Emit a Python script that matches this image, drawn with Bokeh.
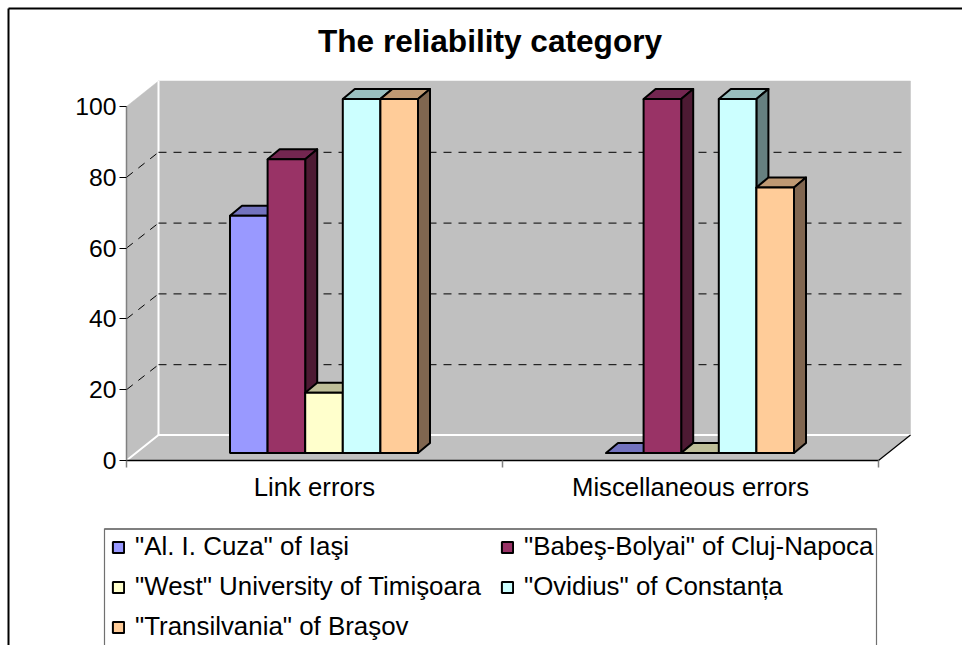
from bokeh.plotting import figure
from bokeh.models import ColumnDataSource, Legend, LegendItem, LinearAxis, FixedTicker
from bokeh.core.properties import value
from bokeh.embed import file_html
from bokeh.resources import INLINE

title_text = "The reliability category"
categories = ["Link errors", "Miscellaneous errors"]
series_names = ['"Al. I. Cuza" of Iaşi', '"Babeş-Bolyai" of Cluj-Napoca',
                '"West" University of Timişoara', '"Ovidius" of Constanța',
                '"Transilvania" of Braşov']
cuza = [67, 0]
babes = [83, 100]
west = [17, 0]
ovidius = [100, 100]
transilvania = [100, 75]
series_values = [cuza, babes, west, ovidius, transilvania]
front_colors = ["#9999FF", "#993366", "#FFFFCC", "#CCFFFF", "#FFCC99"]
top_colors = ["#7373BF", "#732650", "#BFBF99", "#99BFBF", "#BF9973"]
side_colors = ["#4D4D80", "#4D1A33", "#808066", "#668080", "#806650"]
y_ticks = [0, 20, 40, 60, 80, 100]

FONT = "Liberation Sans"
PX_X, PX_Y = 376.0, 3.54            # pixels per category, pixels per percent

def xu(px):  return px / PX_X
def yu(px):  return px / PX_Y
def page_x(px): return (px - 126) / PX_X
def page_y(py): return (460 - py) / PX_Y

p = figure(width=962, height=645, output_backend="svg", toolbar_location=None,
           x_range=(page_x(0), page_x(962)), y_range=(page_y(645), page_y(0)),
           min_border=0, min_border_left=0, min_border_right=0, min_border_top=0, min_border_bottom=0,
           x_axis_type=None, y_axis_type=None, outline_line_color=None,
           background_fill_color="white", border_fill_color="white")
p.grid.visible = False

# --- 3D room -----------------------------------------------------------
WALL_DX, WALL_DY = xu(32), yu(25.5)
WALL = "#C0C0C0"
n = len(categories)
p.patches([[0, WALL_DX, WALL_DX, 0], [WALL_DX, n + WALL_DX, n + WALL_DX, WALL_DX],
           [0, WALL_DX, n + WALL_DX, n]],
          [[100, 100 + WALL_DY, WALL_DY, 0], [WALL_DY, WALL_DY, 100 + WALL_DY, 100 + WALL_DY],
           [0, WALL_DY, WALL_DY, 0]],
          fill_color=WALL, line_color=WALL, line_width=0.5)
p.multi_line([[0, WALL_DX, n + WALL_DX], [WALL_DX, WALL_DX]],
             [[0, WALL_DY, WALL_DY], [WALL_DY, 100 + WALL_DY]],
             line_color="white", line_width=2)
p.multi_line([[n, n + WALL_DX]], [[0, WALL_DY]], line_color="black", line_width=1.2)

# dashed gridlines
grid_vals = [v for v in y_ticks if 0 < v < 100]
GRID_DY = WALL_DY - yu(0.5)
p.multi_line([[0, WALL_DX] for v in grid_vals], [[v, v + GRID_DY] for v in grid_vals],
             line_color="black", line_width=1, line_dash="8 7")
p.multi_line([[WALL_DX, n + WALL_DX - xu(5)] for v in grid_vals],
             [[v + GRID_DY, v + GRID_DY] for v in grid_vals],
             line_color="black", line_width=1, line_dash="8 7")

# --- bars --------------------------------------------------------------
BASE_DX, BASE_DY = xu(9.5), yu(7.5)
DEPTH_DX, DEPTH_DY = xu(12), yu(10)
BAR_W = xu(37.6)
legend_items = []
for s, (name, vals) in enumerate(zip(series_names, series_values)):
    left = [c + 0.5 + BASE_DX + (s - 2.5) * BAR_W for c in range(n)]
    right = [l + BAR_W for l in left]
    bottom = [BASE_DY] * n
    top = [BASE_DY + v for v in vals]
    p.patches([[l, r, r + DEPTH_DX, l + DEPTH_DX] for l, r in zip(left, right)],
              [[t, t, t + DEPTH_DY, t + DEPTH_DY] for t in top],
              fill_color=top_colors[s], line_color="black", line_width=2, line_join="round")
    p.patches([[r, r + DEPTH_DX, r + DEPTH_DX, r] for r in right],
              [[b, b + DEPTH_DY, t + DEPTH_DY, t] for b, t in zip(bottom, top)],
              fill_color=side_colors[s], line_color="black", line_width=2, line_join="round")
    src = ColumnDataSource(dict(left=left, right=right, top=top, bottom=bottom))
    r = p.quad(left="left", right="right", top="top", bottom="bottom", source=src,
               fill_color=front_colors[s], line_color="black", line_width=2)
    legend_items.append(LegendItem(label=name, renderers=[r]))

# --- axes --------------------------------------------------------------
xaxis = LinearAxis(ticker=FixedTicker(ticks=[c + 0.5 for c in range(n)], minor_ticks=list(range(n + 1))),
                   fixed_location=0, bounds=(0, n),
                   major_label_overrides={c + 0.5: categories[c] for c in range(n)},
                   major_label_text_font=FONT, major_label_text_font_size="25.7px", major_label_text_color="black",
                   major_label_standoff=5, axis_line_color="black", axis_line_width=1.5,
                   major_tick_in=0, major_tick_out=0,
                   minor_tick_in=0, minor_tick_out=7, minor_tick_line_color="#808080", minor_tick_line_width=1.5)
p.add_layout(xaxis, "below")
yaxis = LinearAxis(ticker=FixedTicker(ticks=y_ticks), fixed_location=0, bounds=(0, 100),
                   major_label_text_font=FONT, major_label_text_font_size="24.7px", major_label_text_color="black",
                   major_label_standoff=3, axis_line_color="#808080", axis_line_width=1.5,
                   major_tick_in=0, major_tick_out=7, major_tick_line_color="black", major_tick_line_width=1.2,
                   minor_tick_in=0, minor_tick_out=0)
p.add_layout(yaxis, "left")

# --- title -------------------------------------------------------------
p.text([page_x(489.5)], [page_y(40)], text=[title_text], text_font=value(FONT), text_font_style="bold",
       text_font_size="31.6px", text_align="center", text_baseline="middle", text_color="black")

# --- chart frame, legend box ------------------------------------------
p.multi_line([[page_x(8), page_x(8)], [page_x(8), page_x(962)]],
             [[page_y(645), page_y(8)], [page_y(8), page_y(8)]], line_color="black", line_width=2)
p.multi_line([[page_x(104), page_x(876)]], [[page_y(528.5), page_y(528.5)]], line_color="black", line_width=1.2)
p.multi_line([[page_x(104), page_x(104)], [page_x(876), page_x(876)]],
             [[page_y(645), page_y(528)], [page_y(645), page_y(528)]], line_color="#707070", line_width=1.2)

legend = Legend(items=legend_items, ncols=2, orientation="horizontal", location=(111, 4),
                label_text_font=FONT, label_text_font_size="25.9px", label_text_color="black",
                glyph_width=14, glyph_height=14, label_standoff=10, label_width=354,
                spacing=11, padding=0, margin=0,
                background_fill_alpha=0, border_line_color=None)
p.add_layout(legend, "center")

open("out.html", "w").write(file_html(p, INLINE))
